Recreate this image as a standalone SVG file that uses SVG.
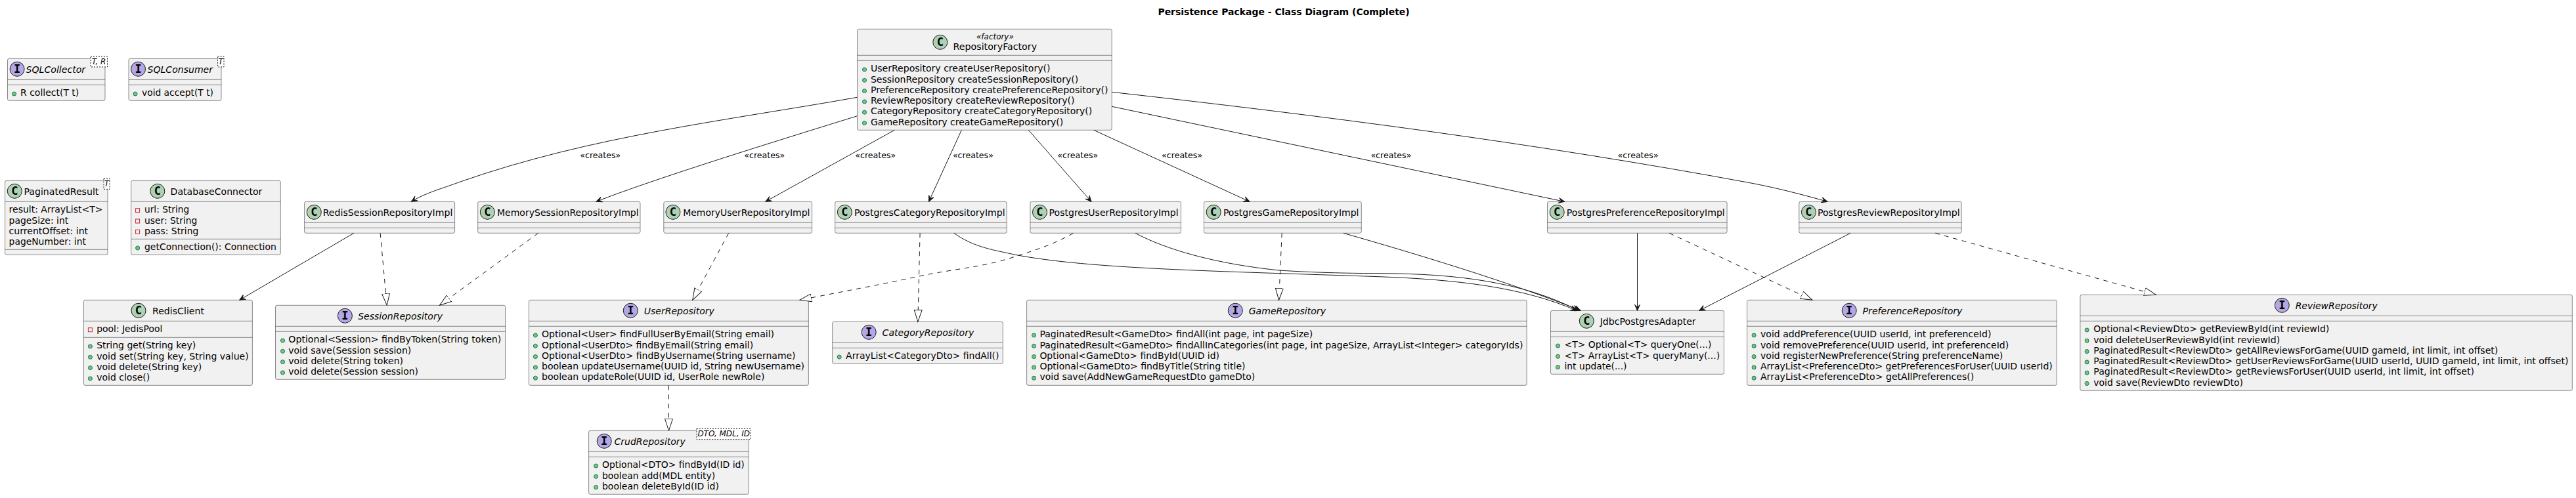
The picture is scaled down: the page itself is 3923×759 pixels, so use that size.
<svg xmlns="http://www.w3.org/2000/svg" width="3923" height="759" viewBox="0 0 3923 759">
<style>
text{font-family:"DejaVu Sans",sans-serif;font-size:14px;fill:#000}
.title{font-weight:bold}
.it{font-style:italic}
.gen{font-style:italic;font-size:12px}
.st{font-style:italic;font-size:12px}
.lbl{font-size:13px}
.box{fill:#F1F1F1;stroke:#181818;stroke-width:.5}
.sep{fill:none;stroke:#181818;stroke-width:.5}
.genbox{fill:#fff;stroke:#181818;stroke-width:1;stroke-dasharray:2,2}
.ic{fill:#ADD1B2;stroke:#181818;stroke-width:1}
.ii{fill:#B4A7E5;stroke:#181818;stroke-width:1}
.ltr{font-family:"DejaVu Sans Mono",monospace;font-weight:bold;font-size:17px;text-anchor:middle}
.pub{fill:#84BE84;stroke:#038048;stroke-width:1}
.pri{fill:none;stroke:#C82930;stroke-width:1}
.solid{fill:none;stroke:#181818;stroke-width:1;marker-end:url(#arrow)}
.real{fill:none;stroke:#181818;stroke-width:1;stroke-dasharray:7,7;marker-end:url(#tri)}
</style>
<defs>
<marker id="arrow" markerUnits="userSpaceOnUse" orient="auto" refX="10" refY="5" markerWidth="11" markerHeight="10"><path d="M10,5 L1,1 L5,5 L1,9 Z" fill="#181818" stroke="#181818" stroke-width="1"/></marker>
<marker id="tri" markerUnits="userSpaceOnUse" orient="auto" refX="18" refY="7" markerWidth="20" markerHeight="14"><path d="M0,1 L18,7 L0,13 Z" fill="#fff" stroke="#181818" stroke-width="1"/></marker>
</defs>
<text class="title" x="1763.4" y="23" textLength="383.3" lengthAdjust="spacingAndGlyphs">Persistence Package - Class Diagram (Complete)</text>

<g id="SQLCollector" transform="translate(11.5,89.3)">
<rect class="box" width="148.5" height="64" rx="2.5"/><path class="sep" d="M0,32H148.5M0,40H148.5"/>
<circle class="ii" cx="14.6" cy="16" r="11"/><text class="ltr" x="14.6" y="22">I</text>
<text class="it" x="28" y="21.5" textLength="90.6" lengthAdjust="spacingAndGlyphs">SQLCollector</text>
<rect class="genbox" x="126.5" y="-3.3" width="25.5" height="16"/><text class="gen" x="128.2" y="9" textLength="21.7" lengthAdjust="spacingAndGlyphs">T, R</text>
<circle class="pub" cx="10" cy="53.7" r="3"/><text x="19.5" y="57" textLength="89.3" lengthAdjust="spacingAndGlyphs">R collect(T t)</text>
</g>
<g id="SQLConsumer" transform="translate(196,89.3)">
<rect class="box" width="141" height="64" rx="2.5"/><path class="sep" d="M0,32H141M0,40H141"/>
<circle class="ii" cx="14.5" cy="16" r="11"/><text class="ltr" x="14.5" y="22">I</text>
<text class="it" x="28.5" y="21.5" textLength="99.5" lengthAdjust="spacingAndGlyphs">SQLConsumer</text>
<rect class="genbox" x="135.6" y="-3.3" width="9.4" height="16"/><text class="gen" x="136.6" y="9">T</text>
<circle class="pub" cx="10" cy="53.7" r="3"/><text x="20" y="57" textLength="109" lengthAdjust="spacingAndGlyphs">void accept(T t)</text>
</g>
<g id="PaginatedResult" transform="translate(7.6,275.3)">
<rect class="box" width="156.4" height="113" rx="2.5"/><path class="sep" d="M0,32H156.4M0,105H156.4"/>
<circle class="ic" cx="14.7" cy="16" r="11"/><text class="ltr" x="14.7" y="22">C</text>
<text x="28.8" y="21.5" textLength="114" lengthAdjust="spacingAndGlyphs">PaginatedResult</text>
<rect class="genbox" x="150.4" y="-3" width="9" height="16"/><text class="gen" x="151.2" y="9">T</text>
<text x="6" y="49" textLength="142.9" lengthAdjust="spacingAndGlyphs">result: ArrayList&lt;T&gt;</text>
<text x="6" y="65.3" textLength="90.6" lengthAdjust="spacingAndGlyphs">pageSize: int</text>
<text x="6" y="81.6" textLength="120.5" lengthAdjust="spacingAndGlyphs">currentOffset: int</text>
<text x="6" y="97.9" textLength="117.3" lengthAdjust="spacingAndGlyphs">pageNumber: int</text>
</g>
<g id="DatabaseConnector" transform="translate(199.6,275.3)">
<rect class="box" width="227.7" height="113" rx="2.5"/><path class="sep" d="M0,32H227.7M0,89H227.7"/>
<circle class="ic" cx="40.2" cy="16" r="11"/><text class="ltr" x="40.2" y="22">C</text>
<text x="60" y="21.5" textLength="139.7" lengthAdjust="spacingAndGlyphs">DatabaseConnector</text>
<rect class="pri" x="7" y="42.4" width="6" height="6"/><text x="20.4" y="49" textLength="68.2" lengthAdjust="spacingAndGlyphs">url: String</text>
<rect class="pri" x="7" y="58.7" width="6" height="6"/><text x="20.4" y="65.3" textLength="80.4" lengthAdjust="spacingAndGlyphs">user: String</text>
<rect class="pri" x="7" y="75" width="6" height="6"/><text x="20.4" y="81.6" textLength="82.3" lengthAdjust="spacingAndGlyphs">pass: String</text>
<circle class="pub" cx="10" cy="102.7" r="3"/><text x="20.4" y="106" textLength="200.9" lengthAdjust="spacingAndGlyphs">getConnection(): Connection</text>
</g>
<g id="RepositoryFactory" transform="translate(1305.5,44.3)">
<rect class="box" width="387.7" height="154" rx="2.5"/><path class="sep" d="M0,40H387.7M0,48H387.7"/>
<circle class="ic" cx="126.3" cy="20" r="11"/><text class="ltr" x="126.3" y="26">C</text>
<text class="st" x="181.5" y="16" textLength="56.8" lengthAdjust="spacingAndGlyphs">«factory»</text>
<text x="146" y="32" textLength="127.6" lengthAdjust="spacingAndGlyphs">RepositoryFactory</text>
<circle class="pub" cx="11" cy="61.7" r="3"/><text x="20.4" y="65" textLength="273.6" lengthAdjust="spacingAndGlyphs">UserRepository createUserRepository()</text>
<circle class="pub" cx="11" cy="78" r="3"/><text x="20.4" y="81.3" textLength="316.3" lengthAdjust="spacingAndGlyphs">SessionRepository createSessionRepository()</text>
<circle class="pub" cx="11" cy="94.3" r="3"/><text x="20.4" y="97.6" textLength="361.6" lengthAdjust="spacingAndGlyphs">PreferenceRepository createPreferenceRepository()</text>
<circle class="pub" cx="11" cy="110.6" r="3"/><text x="20.4" y="113.9" textLength="310.6" lengthAdjust="spacingAndGlyphs">ReviewRepository createReviewRepository()</text>
<circle class="pub" cx="11" cy="126.9" r="3"/><text x="20.4" y="130.2" textLength="337.4" lengthAdjust="spacingAndGlyphs">CategoryRepository createCategoryRepository()</text>
<circle class="pub" cx="11" cy="143.2" r="3"/><text x="20.4" y="146.5" textLength="293.4" lengthAdjust="spacingAndGlyphs">GameRepository createGameRepository()</text>
</g>
<g id="RedisSessionRepositoryImpl" transform="translate(463.6,307.3)">
<rect class="box" width="229" height="48" rx="2.5"/><path class="sep" d="M0,32H229M0,40H229"/>
<circle class="ic" cx="14.7" cy="16" r="11"/><text class="ltr" x="14.7" y="22">C</text>
<text x="28.1" y="21.5" textLength="197.7" lengthAdjust="spacingAndGlyphs">RedisSessionRepositoryImpl</text>
</g>
<g id="MemorySessionRepositoryImpl" transform="translate(727.7,307.3)">
<rect class="box" width="247.3" height="48" rx="2.5"/><path class="sep" d="M0,32H247.3M0,40H247.3"/>
<circle class="ic" cx="14.6" cy="16" r="11"/><text class="ltr" x="14.6" y="22">C</text>
<text x="29.3" y="21.5" textLength="215.6" lengthAdjust="spacingAndGlyphs">MemorySessionRepositoryImpl</text>
</g>
<g id="MemoryUserRepositoryImpl" transform="translate(1010.8,307.3)">
<rect class="box" width="225.8" height="48" rx="2.5"/><path class="sep" d="M0,32H225.8M0,40H225.8"/>
<circle class="ic" cx="14.1" cy="16" r="11"/><text class="ltr" x="14.1" y="22">C</text>
<text x="29.4" y="21.5" textLength="193.2" lengthAdjust="spacingAndGlyphs">MemoryUserRepositoryImpl</text>
</g>
<g id="PostgresCategoryRepositoryImpl" transform="translate(1271.7,307.3)">
<rect class="box" width="261.5" height="48" rx="2.5"/><path class="sep" d="M0,32H261.5M0,40H261.5"/>
<circle class="ic" cx="14.7" cy="16" r="11"/><text class="ltr" x="14.7" y="22">C</text>
<text x="29.3" y="21.5" textLength="229.6" lengthAdjust="spacingAndGlyphs">PostgresCategoryRepositoryImpl</text>
</g>
<g id="PostgresUserRepositoryImpl" transform="translate(1568.9,307.3)">
<rect class="box" width="229.6" height="48" rx="2.5"/><path class="sep" d="M0,32H229.6M0,40H229.6"/>
<circle class="ic" cx="14.6" cy="16" r="11"/><text class="ltr" x="14.6" y="22">C</text>
<text x="28.7" y="21.5" textLength="197" lengthAdjust="spacingAndGlyphs">PostgresUserRepositoryImpl</text>
</g>
<g id="PostgresGameRepositoryImpl" transform="translate(1833.5,307.3)">
<rect class="box" width="239.8" height="48" rx="2.5"/><path class="sep" d="M0,32H239.8M0,40H239.8"/>
<circle class="ic" cx="14.7" cy="16" r="11"/><text class="ltr" x="14.7" y="22">C</text>
<text x="29.4" y="21.5" textLength="206.6" lengthAdjust="spacingAndGlyphs">PostgresGameRepositoryImpl</text>
</g>
<g id="PostgresPreferenceRepositoryImpl" transform="translate(2356.5,307.3)">
<rect class="box" width="273.6" height="48" rx="2.5"/><path class="sep" d="M0,32H273.6M0,40H273.6"/>
<circle class="ic" cx="14.7" cy="16" r="11"/><text class="ltr" x="14.7" y="22">C</text>
<text x="29.3" y="21.5" textLength="241" lengthAdjust="spacingAndGlyphs">PostgresPreferenceRepositoryImpl</text>
</g>
<g id="PostgresReviewRepositoryImpl" transform="translate(2739.8,307.3)">
<rect class="box" width="247.4" height="48" rx="2.5"/><path class="sep" d="M0,32H247.4M0,40H247.4"/>
<circle class="ic" cx="14.7" cy="16" r="11"/><text class="ltr" x="14.7" y="22">C</text>
<text x="28.1" y="21.5" textLength="216.8" lengthAdjust="spacingAndGlyphs">PostgresReviewRepositoryImpl</text>
</g>
<g id="RedisClient" transform="translate(127.4,457.3)">
<rect class="box" width="257" height="130" rx="2.5"/><path class="sep" d="M0,32H257M0,57H257"/>
<circle class="ic" cx="83.6" cy="16" r="11"/><text class="ltr" x="83.6" y="22">C</text>
<text x="104.6" y="21.5" textLength="79" lengthAdjust="spacingAndGlyphs">RedisClient</text>
<rect class="pri" x="7" y="42.4" width="6" height="6"/><text x="19.8" y="49" textLength="100.1" lengthAdjust="spacingAndGlyphs">pool: JedisPool</text>
<circle class="pub" cx="10" cy="70.7" r="3"/><text x="19.8" y="74" textLength="151" lengthAdjust="spacingAndGlyphs">String get(String key)</text>
<circle class="pub" cx="10" cy="87" r="3"/><text x="19.8" y="90.3" textLength="231.5" lengthAdjust="spacingAndGlyphs">void set(String key, String value)</text>
<circle class="pub" cx="10" cy="103.3" r="3"/><text x="19.8" y="106.6" textLength="160" lengthAdjust="spacingAndGlyphs">void delete(String key)</text>
<circle class="pub" cx="10" cy="119.6" r="3"/><text x="19.8" y="122.9" textLength="81" lengthAdjust="spacingAndGlyphs">void close()</text>
</g>
<g id="SessionRepository" transform="translate(419.5,465.3)">
<rect class="box" width="350.1" height="113" rx="2.5"/><path class="sep" d="M0,32H350.1M0,40H350.1"/>
<circle class="ii" cx="105.9" cy="16" r="11"/><text class="ltr" x="105.9" y="22">I</text>
<text class="it" x="125.7" y="21.5" textLength="128.8" lengthAdjust="spacingAndGlyphs">SessionRepository</text>
<circle class="pub" cx="11" cy="53.7" r="3"/><text x="19.8" y="57" textLength="324" lengthAdjust="spacingAndGlyphs">Optional&lt;Session&gt; findByToken(String token)</text>
<circle class="pub" cx="11" cy="70" r="3"/><text x="19.8" y="73.3" textLength="186.9" lengthAdjust="spacingAndGlyphs">void save(Session session)</text>
<circle class="pub" cx="11" cy="86.3" r="3"/><text x="19.8" y="89.6" textLength="174.7" lengthAdjust="spacingAndGlyphs">void delete(String token)</text>
<circle class="pub" cx="11" cy="102.6" r="3"/><text x="19.8" y="105.9" textLength="197.7" lengthAdjust="spacingAndGlyphs">void delete(Session session)</text>
</g>
<g id="UserRepository" transform="translate(805.4,457.3)">
<rect class="box" width="426" height="130" rx="2.5"/><path class="sep" d="M0,32H426M0,40H426"/>
<circle class="ii" cx="154.9" cy="16" r="11"/><text class="ltr" x="154.9" y="22">I</text>
<text class="it" x="175.3" y="21.5" textLength="107.1" lengthAdjust="spacingAndGlyphs">UserRepository</text>
<circle class="pub" cx="10" cy="53.7" r="3"/><text x="19.7" y="57" textLength="353.9" lengthAdjust="spacingAndGlyphs">Optional&lt;User&gt; findFullUserByEmail(String email)</text>
<circle class="pub" cx="10" cy="70" r="3"/><text x="19.7" y="73.3" textLength="322.1" lengthAdjust="spacingAndGlyphs">Optional&lt;UserDto&gt; findByEmail(String email)</text>
<circle class="pub" cx="10" cy="86.3" r="3"/><text x="19.7" y="89.6" textLength="386.5" lengthAdjust="spacingAndGlyphs">Optional&lt;UserDto&gt; findByUsername(String username)</text>
<circle class="pub" cx="10" cy="102.6" r="3"/><text x="19.7" y="105.9" textLength="399.9" lengthAdjust="spacingAndGlyphs">boolean updateUsername(UUID id, String newUsername)</text>
<circle class="pub" cx="10" cy="118.9" r="3"/><text x="19.7" y="122.2" textLength="339.3" lengthAdjust="spacingAndGlyphs">boolean updateRole(UUID id, UserRole newRole)</text>
</g>
<g id="CrudRepository" transform="translate(896.6,656.3)">
<rect class="box" width="243.6" height="97" rx="2.5"/><path class="sep" d="M0,32H243.6M0,40H243.6"/>
<circle class="ii" cx="23.6" cy="16" r="11"/><text class="ltr" x="23.6" y="22">I</text>
<text class="it" x="38.9" y="21.5" textLength="108.4" lengthAdjust="spacingAndGlyphs">CrudRepository</text>
<rect class="genbox" x="164.4" y="-3" width="82.4" height="16.4"/><text class="gen" x="165.8" y="9" textLength="79.7" lengthAdjust="spacingAndGlyphs">DTO, MDL, ID</text>
<circle class="pub" cx="11" cy="53.7" r="3"/><text x="20.4" y="57" textLength="216.8" lengthAdjust="spacingAndGlyphs">Optional&lt;DTO&gt; findById(ID id)</text>
<circle class="pub" cx="11" cy="70" r="3"/><text x="20.4" y="73.3" textLength="172.2" lengthAdjust="spacingAndGlyphs">boolean add(MDL entity)</text>
<circle class="pub" cx="11" cy="86.3" r="3"/><text x="20.4" y="89.6" textLength="177.9" lengthAdjust="spacingAndGlyphs">boolean deleteById(ID id)</text>
</g>
<g id="CategoryRepository" transform="translate(1267.7,490.3)">
<rect class="box" width="259.6" height="64" rx="2.5"/><path class="sep" d="M0,32H259.6M0,40H259.6"/>
<circle class="ii" cx="55.5" cy="16" r="11"/><text class="ltr" x="55.5" y="22">I</text>
<text class="it" x="75.9" y="21.5" textLength="139.7" lengthAdjust="spacingAndGlyphs">CategoryRepository</text>
<circle class="pub" cx="10.5" cy="53.7" r="3"/><text x="20.4" y="57" textLength="233.4" lengthAdjust="spacingAndGlyphs">ArrayList&lt;CategoryDto&gt; findAll()</text>
</g>
<g id="GameRepository" transform="translate(1563.6,457.3)">
<rect class="box" width="761.5" height="130" rx="2.5"/><path class="sep" d="M0,32H761.5M0,40H761.5"/>
<circle class="ii" cx="317.7" cy="16" r="11"/><text class="ltr" x="317.7" y="22">I</text>
<text class="it" x="338.1" y="21.5" textLength="117.3" lengthAdjust="spacingAndGlyphs">GameRepository</text>
<circle class="pub" cx="11" cy="53.7" r="3"/><text x="19.8" y="57" textLength="415.8" lengthAdjust="spacingAndGlyphs">PaginatedResult&lt;GameDto&gt; findAll(int page, int pageSize)</text>
<circle class="pub" cx="11" cy="70" r="3"/><text x="19.8" y="73.3" textLength="736" lengthAdjust="spacingAndGlyphs">PaginatedResult&lt;GameDto&gt; findAllInCategories(int page, int pageSize, ArrayList&lt;Integer&gt; categoryIds)</text>
<circle class="pub" cx="11" cy="86.3" r="3"/><text x="19.8" y="89.6" textLength="273.6" lengthAdjust="spacingAndGlyphs">Optional&lt;GameDto&gt; findById(UUID id)</text>
<circle class="pub" cx="11" cy="102.6" r="3"/><text x="19.8" y="105.9" textLength="313.1" lengthAdjust="spacingAndGlyphs">Optional&lt;GameDto&gt; findByTitle(String title)</text>
<circle class="pub" cx="11" cy="118.9" r="3"/><text x="19.8" y="122.2" textLength="327.8" lengthAdjust="spacingAndGlyphs">void save(AddNewGameRequestDto gameDto)</text>
</g>
<g id="JdbcPostgresAdapter" transform="translate(2361.5,473.3)">
<rect class="box" width="264" height="97" rx="2.5"/><path class="sep" d="M0,32H264M0,40H264"/>
<circle class="ic" cx="54.8" cy="16" r="11"/><text class="ltr" x="54.8" y="22">C</text>
<text x="75.2" y="21.5" textLength="146" lengthAdjust="spacingAndGlyphs">JdbcPostgresAdapter</text>
<circle class="pub" cx="11" cy="53.7" r="3"/><text x="21" y="57" textLength="223.9" lengthAdjust="spacingAndGlyphs">&lt;T&gt; Optional&lt;T&gt; queryOne(...)</text>
<circle class="pub" cx="11" cy="70" r="3"/><text x="21" y="73.3" textLength="236.6" lengthAdjust="spacingAndGlyphs">&lt;T&gt; ArrayList&lt;T&gt; queryMany(...)</text>
<circle class="pub" cx="11" cy="86.3" r="3"/><text x="21" y="89.6" textLength="95" lengthAdjust="spacingAndGlyphs">int update(...)</text>
</g>
<g id="PreferenceRepository" transform="translate(2660.6,457.3)">
<rect class="box" width="471.6" height="130" rx="2.5"/><path class="sep" d="M0,32H471.6M0,40H471.6"/>
<circle class="ii" cx="155.6" cy="16" r="11"/><text class="ltr" x="155.6" y="22">I</text>
<text class="it" x="176" y="21.5" textLength="151.8" lengthAdjust="spacingAndGlyphs">PreferenceRepository</text>
<circle class="pub" cx="10.5" cy="53.7" r="3"/><text x="20.4" y="57" textLength="351.4" lengthAdjust="spacingAndGlyphs">void addPreference(UUID userId, int preferenceId)</text>
<circle class="pub" cx="10.5" cy="70" r="3"/><text x="20.4" y="73.3" textLength="378.2" lengthAdjust="spacingAndGlyphs">void removePreference(UUID userId, int preferenceId)</text>
<circle class="pub" cx="10.5" cy="86.3" r="3"/><text x="20.4" y="89.6" textLength="369.3" lengthAdjust="spacingAndGlyphs">void registerNewPreference(String preferenceName)</text>
<circle class="pub" cx="10.5" cy="102.6" r="3"/><text x="20.4" y="105.9" textLength="444.8" lengthAdjust="spacingAndGlyphs">ArrayList&lt;PreferenceDto&gt; getPreferencesForUser(UUID userId)</text>
<circle class="pub" cx="10.5" cy="118.9" r="3"/><text x="20.4" y="122.2" textLength="325.3" lengthAdjust="spacingAndGlyphs">ArrayList&lt;PreferenceDto&gt; getAllPreferences()</text>
</g>
<g id="ReviewRepository" transform="translate(3167.9,449.3)">
<rect class="box" width="749.4" height="146" rx="2.5"/><path class="sep" d="M0,32H749.4M0,40H749.4"/>
<circle class="ii" cx="307.4" cy="16" r="11"/><text class="ltr" x="307.4" y="22">I</text>
<text class="it" x="327.8" y="21.5" textLength="125" lengthAdjust="spacingAndGlyphs">ReviewRepository</text>
<circle class="pub" cx="10.2" cy="53.7" r="3"/><text x="20.4" y="57" textLength="359" lengthAdjust="spacingAndGlyphs">Optional&lt;ReviewDto&gt; getReviewById(int reviewId)</text>
<circle class="pub" cx="10.2" cy="70" r="3"/><text x="20.4" y="73.3" textLength="283.8" lengthAdjust="spacingAndGlyphs">void deleteUserReviewById(int reviewId)</text>
<circle class="pub" cx="10.2" cy="86.3" r="3"/><text x="20.4" y="89.6" textLength="616" lengthAdjust="spacingAndGlyphs">PaginatedResult&lt;ReviewDto&gt; getAllReviewsForGame(UUID gameId, int limit, int offset)</text>
<circle class="pub" cx="10.2" cy="102.6" r="3"/><text x="20.4" y="105.9" textLength="723.2" lengthAdjust="spacingAndGlyphs">PaginatedResult&lt;ReviewDto&gt; getUserReviewsForGame(UUID userId, UUID gameId, int limit, int offset)</text>
<circle class="pub" cx="10.2" cy="118.9" r="3"/><text x="20.4" y="122.2" textLength="579.7" lengthAdjust="spacingAndGlyphs">PaginatedResult&lt;ReviewDto&gt; getReviewsForUser(UUID userId, int limit, int offset)</text>
<circle class="pub" cx="10.2" cy="135.2" r="3"/><text x="20.4" y="138.5" textLength="227.7" lengthAdjust="spacingAndGlyphs">void save(ReviewDto reviewDto)</text>
</g>

<g id="connectors">
<path class="solid" d="M1305.5,148.3 C1105,184 901,207 701,277 C672,288 650,293 626.3,307.3"/>
<path class="solid" d="M1305.5,176.7 C1205,208 1000,271 908,307.3"/>
<path class="solid" d="M1362.2,198.3 L1165.8,307.3"/>
<path class="solid" d="M1464.3,198.3 L1414.5,307.3"/>
<path class="solid" d="M1566.3,198.3 L1662,307.3"/>
<path class="solid" d="M1665.8,198.3 L1903,307.3"/>
<path class="solid" d="M1693.2,162.3 L2382.7,307.3"/>
<path class="solid" d="M1693.2,140.3 C2013,176 2343,219 2663,278.3 C2703,285.7 2743,296 2783,307.3"/>
<path class="solid" d="M538.9,355.3 L364.7,457.3"/>
<path class="real" d="M579.1,355.3 L589.2,465.3"/>
<path class="real" d="M819.5,355.3 L669.5,465.3"/>
<path class="real" d="M1109.7,355.3 L1054.7,457.3"/>
<path class="real" d="M1401.1,355.3 L1397.8,490.3"/>
<path class="solid" d="M1452.8,355.3 C1485,378 1515,381 1546,388.3 C1660,410 1850,413 2100,421.7 C2220,426 2320,438 2401,473.3"/>
<path class="solid" d="M1729,355.3 C1775,380 1850,402 1948,412 C2010,416 2060,416.5 2100,416.7 C2220,417 2320,430 2404,473.3"/>
<path class="real" d="M1634.6,355.3 C1600,375 1570,383 1546,391 C1495,408 1450,410 1400,421 C1340,434 1280,445 1218,457.3"/>
<path class="real" d="M1952.2,355.3 L1947.6,457.3"/>
<path class="solid" d="M2045.9,355.3 C2150,385 2300,430 2407,473.3"/>
<path class="solid" d="M2493.5,355.3 V473.3"/>
<path class="real" d="M2542.1,355.3 L2760,457.3"/>
<path class="solid" d="M2818.2,355.3 L2587.9,473.3"/>
<path class="real" d="M2947.2,355.3 L3283.3,449.3"/>
<path class="real" d="M1018.5,587.3 V656.3"/>
<text class="lbl" x="883.3" y="241" textLength="62" lengthAdjust="spacingAndGlyphs">«creates»</text>
<text class="lbl" x="1133.3" y="241" textLength="62" lengthAdjust="spacingAndGlyphs">«creates»</text>
<text class="lbl" x="1302.3" y="241" textLength="62" lengthAdjust="spacingAndGlyphs">«creates»</text>
<text class="lbl" x="1450.9" y="241" textLength="62" lengthAdjust="spacingAndGlyphs">«creates»</text>
<text class="lbl" x="1610.3" y="241" textLength="62" lengthAdjust="spacingAndGlyphs">«creates»</text>
<text class="lbl" x="1769.1" y="241" textLength="62" lengthAdjust="spacingAndGlyphs">«creates»</text>
<text class="lbl" x="2087.4" y="241" textLength="62" lengthAdjust="spacingAndGlyphs">«creates»</text>
<text class="lbl" x="2463.6" y="241" textLength="62" lengthAdjust="spacingAndGlyphs">«creates»</text>
</g>
</svg>
